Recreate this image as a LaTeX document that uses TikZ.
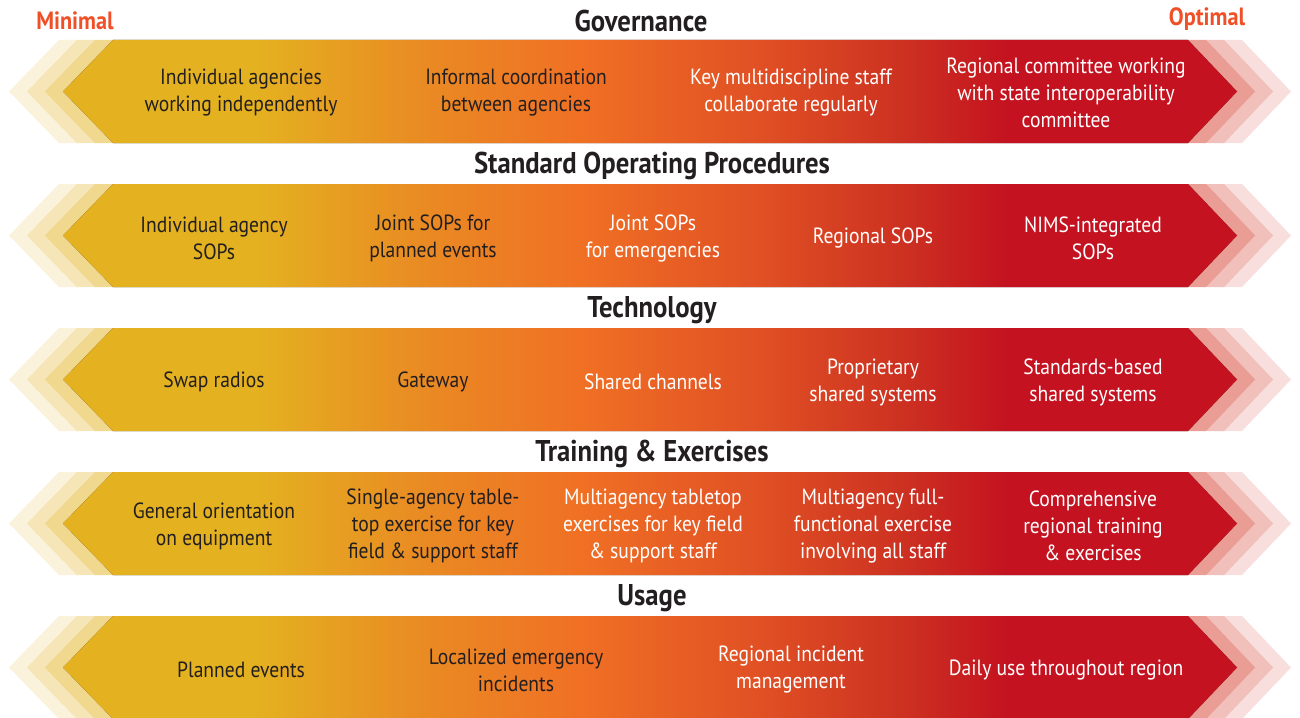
\documentclass[tikz,border=0pt]{standalone}
\usepackage{fontspec}
\setmainfont{PT Sans}[FakeStretch=0.89]
\usetikzlibrary{positioning}

\definecolor{bandgold}{RGB}{228,178,32}
\definecolor{bandamber}{RGB}{233,140,35}
\definecolor{bandorange}{RGB}{240,112,36}
\definecolor{bandrust}{RGB}{224,80,36}
\definecolor{bandbrick}{RGB}{205,50,33}
\definecolor{bandred}{RGB}{196,18,32}
\definecolor{tipred}{RGB}{214,60,45}
\definecolor{inkdark}{RGB}{35,31,32}
\definecolor{scalered}{RGB}{240,80,40}

% 25bp = left point of band, 75bp = right point of band
\pgfdeclarehorizontalshading{bandshade}{100bp}{%
  color(0bp)=(bandgold); color(33bp)=(bandgold); color(40bp)=(bandamber);
  color(47bp)=(bandorange); color(54.7bp)=(bandrust); color(60.6bp)=(bandbrick);
  color(65.3bp)=(bandred); color(100bp)=(bandred)}

\tikzset{
  item/.style={font=\fontsize{22}{27}\selectfont, align=center, text=inkdark, inner sep=0pt},
  itemlight/.style={item, text=white},
  head/.style={font=\fontsize{30}{32}\selectfont\bfseries, text=inkdark, inner sep=0pt},
  scaletag/.style={font=\fontsize{25}{27}\selectfont\bfseries, text=scalered, inner sep=0pt}
}

% one band, #1 = top edge
\newcommand\drawband[1]{%
  \begin{scope}[shift={(0,#1)}]
    \fill[shading=bandshade] (63,51.5) -- (113,0) -- (1188,0) -- (1237,51.5)
      -- (1188,103) -- (113,103) -- cycle;
    \foreach \k/\op in {1/0.5,2/0.32,3/0.16}{
      \fill[bandgold,opacity=\op] (113-18*\k,0) -- (63-18*\k,51.5) -- (113-18*\k,103)
        -- (131-18*\k,103) -- (81-18*\k,51.5) -- (131-18*\k,0) -- cycle;
      \fill[tipred,opacity=\op] (1188+18*\k,0) -- (1237+18*\k,51.5) -- (1188+18*\k,103)
        -- (1170+18*\k,103) -- (1219+18*\k,51.5) -- (1170+18*\k,0) -- cycle;
    }
  \end{scope}}

\begin{document}
\begin{tikzpicture}[x=1pt,y=-1pt]
\useasboundingbox (0,0) rectangle (1300,717);
\fill[white] (0,0) rectangle (1300,717);

\drawband{40}
\drawband{184}
\drawband{328}
\drawband{472}
\drawband{616}

\node[scaletag] (minimal) at (75,21) {Minimal};
\node[scaletag] (optimal) at (1207,19) {Optimal};

% Governance
\node[head] (tgov) at (641,21) {Governance};
\node[item] (gov1) at (241,93) {Individual agencies\\working independently};
\node[item] (gov2) at (516,93) {Informal coordination\\between agencies};
\node[itemlight] (gov3) at (791,93) {Key multidiscipline staff\\collaborate regularly};
\node[itemlight] (gov4) at (1066,93) {Regional committee working\\with state interoperability\\committee};

% Standard Operating Procedures
\node[head] (tsop) at (652,166) {Standard Operating Procedures};
\node[item] (sop1) at (214,238) {Individual agency\\SOPs};
\node[item] (sop2) at (433,238) {Joint SOPs for\\planned events};
\node[itemlight] (sop3) at (653,238) {Joint SOPs\\for emergencies};
\node[itemlight] (sop4) at (873,238) {Regional SOPs};
\node[itemlight] (sop5) at (1093,238) {NIMS-integrated\\SOPs};

% Technology
\node[head] (ttech) at (652,310) {Technology};
\node[item] (tech1) at (214,382) {Swap radios};
\node[item] (tech2) at (433,382) {Gateway};
\node[itemlight] (tech3) at (653,382) {Shared channels};
\node[itemlight] (tech4) at (873,382) {Proprietary\\shared systems};
\node[itemlight] (tech5) at (1093,382) {Standards-based\\shared systems};

% Training & Exercises
\node[head] (ttrain) at (652,454) {Training \& Exercises};
\node[item] (train1) at (214,526) {General orientation\\on equipment};
\node[item] (train2) at (433,526) {Single-agency table-\\top exercise for key\\field \& support staff};
\node[itemlight] (train3) at (653,526) {Multiagency tabletop\\exercises for key field\\\& support staff};
\node[itemlight] (train4) at (873,526) {Multiagency full-\\functional exercise\\involving all staff};
\node[itemlight] (train5) at (1093,526) {Comprehensive\\regional training\\\& exercises};

% Usage
\node[head] (tuse) at (652,598) {Usage};
\node[item] (use1) at (241,670) {Planned events};
\node[item] (use2) at (516,670) {Localized emergency\\incidents};
\node[itemlight] (use3) at (791,670) {Regional incident\\management};
\node[itemlight] (use4) at (1066,670) {Daily use throughout region};
\end{tikzpicture}
\end{document}
